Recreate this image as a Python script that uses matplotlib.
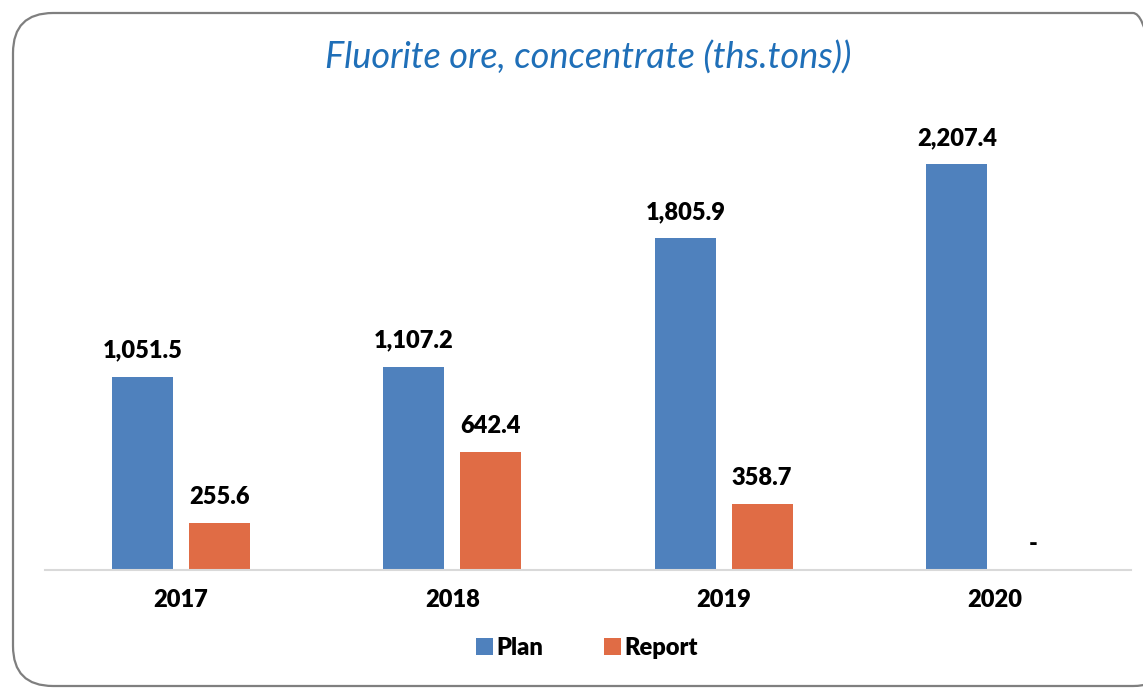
import matplotlib.pyplot as plt
from matplotlib.patches import FancyBboxPatch

years = ['2017', '2018', '2019', '2020']
plan = [1051.5, 1107.2, 1805.9, 2207.4]
report = [255.6, 642.4, 358.7, 0.0]
report_labels = ['255.6', '642.4', '358.7', '-']

blue = '#4F81BD'
orange = '#E06C45'

plt.rcParams['font.family'] = ['Lato', 'DejaVu Sans']

fig = plt.figure(figsize=(11.43, 6.88), dpi=100)
W, H = 1143, 688

# rounded frame
frame = FancyBboxPatch((13 / W, 2 / H), 1160 / W, 673 / H,
                       boxstyle='round,pad=0,rounding_size=0.035',
                       transform=fig.transFigure, facecolor='none', zorder=-1,
                       edgecolor='#7F7F7F', linewidth=1.6, mutation_aspect=W / H)
fig.patches.append(frame)

ax = fig.add_axes([45 / W, (H - 570) / H, 1086 / W, 470 / H])
ax.set_facecolor('none')

x = list(range(len(years)))
w = 0.224
off = 0.1415
b1 = ax.bar([i - off for i in x], plan, width=w, color=blue, label='Plan')
b2 = ax.bar([i + off for i in x], report, width=w, color=orange, label='Report')

wt = 'heavy'
for rect, v in zip(b1, plan):
    ax.annotate(f'{v:,.1f}', (rect.get_x() + rect.get_width() / 2, v),
                xytext=(0, 11), textcoords='offset points', ha='center', va='bottom',
                fontsize=17, fontweight=wt)
for rect, v, lab in zip(b2, report, report_labels):
    ax.annotate(lab, (rect.get_x() + rect.get_width() / 2, v),
                xytext=(0, 11), textcoords='offset points', ha='center', va='bottom',
                fontsize=17, fontweight=wt)

ax.set_xlim(-0.5, 3.5)
ax.set_ylim(0, 2558)
ax.set_xticks(x)
ax.set_xticklabels(years, fontsize=17, fontweight=wt)
ax.tick_params(axis='x', length=0, pad=14)
ax.set_yticks([])
for s in ['top', 'right', 'left']:
    ax.spines[s].set_visible(False)
ax.spines['bottom'].set_color('#D9D9D9')
ax.spines['bottom'].set_linewidth(1.5)

fig.text(588 / W, 1 - 58 / H, 'Fluorite ore, concentrate (ths.tons))', ha='center', va='center',
         fontsize=26, fontstyle='italic', color='#1F6FB8')

leg = fig.legend(handles=[b1, b2], loc='center', bbox_to_anchor=(587 / W, 1 - 648 / H),
                 ncol=2, frameon=False, handlelength=0.7, handleheight=0.7,
                 columnspacing=2.6, handletextpad=0.15,
                 prop={'size': 17, 'weight': wt})

fig.savefig('out.png', dpi=100)
